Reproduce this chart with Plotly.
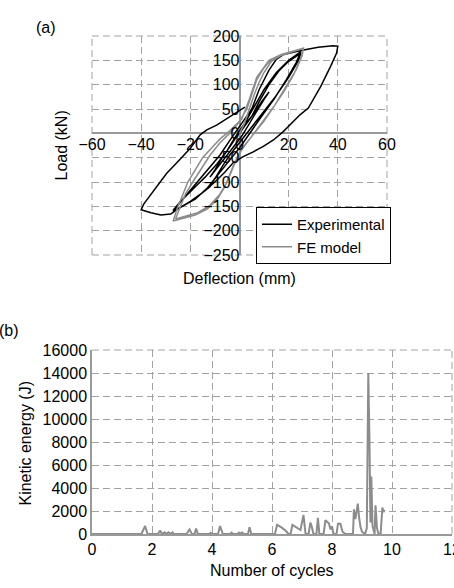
import plotly.graph_objects as go

# ---------------- data: panel (a) hysteresis ----------------
exp_x = [0, 3, 6, 9, 12, 10, 7, 4, 1, -2, -5, -8, -12, -10, -7, -4, -1, 2,
         5, 8, 12, 16, 20, 25, 24, 20, 15, 10, 5, 0, -4, -7, -12, -19, -25, -27,
         -24, -19, -14, -9, -5, -2, 2, 6, 10, 15, 20, 25,
         23, 19, 14, 9, 4, 0, -4, -8, -13, -18, -24, -27,
         -23, -18, -13, -8, -4, 0, 5,
         8, 12, 15, 18, 25, 32, 38, 40, 39.5, 37, 33, 30, 28, 24.6, 20.5, 17.8,
         13.8, 9.7, 5.6, 1.5, -2.5, -6, -10, -15, -20, -25, -28, -32, -36, -40,
         -38.9, -36.7, -33.7, -29.6, -25.6, -20.1, -16, -13.3, -9.3, -3.9, 2.2]
exp_y = [0, 20, 42, 65, 85, 70, 45, 20, -5, -25, -45, -65, -90, -75, -50, -28, -5, 18,
         35, 65, 100, 128, 148, 165, 150, 115, 78, 45, 12, -20, -45, -68, -110, -138, -155, -158,
         -140, -115, -90, -62, -35, -10, 20, 55, 90, 125, 150, 168,
         145, 110, 70, 35, 0, -30, -55, -80, -112, -135, -152, -160,
         -135, -105, -75, -45, -15, 15, 50,
         90, 130, 152, 162, 170, 177, 180, 179, 165, 137, 96, 69, 52, 38, 17, 3.5,
         -13.6, -27, -38, -48, -60, -80, -100, -122, -140, -155, -166, -168, -163, -157,
         -145, -130, -109, -82, -61, -31, -3, 7, 17, 34, 54]

fe_x = [0, 2, 4, 6, 8, 10, 13, 17, 22, 26, 25.5, 23, 20, 17, 14, 10, 6, 3, 0, -2, -4,
        -6, -9, -13, -18, -23, -27, -26, -25, -23, -21, -18, -15, -11, -8, -4, 0,
        3, 5, 7, 10, 13, 18, 23, 26, 25, 22, 18, 14, 10, 6, 2, -1, -3, -5, -8,
        -12, -17, -22, -26, -24, -22, -19, -15, -12, -8, -3, 1, 4, 7, 12, 17, 26]
fe_y = [0, 20, 50, 80, 105, 125, 148, 160, 168, 175, 160, 130, 105, 80, 55, 28, 0, -20, -40, -60, -85,
        -110, -135, -155, -168, -175, -180, -165, -150, -125, -100, -75, -50, -28, -12, 5, 25,
        50, 80, 110, 135, 152, 163, 170, 174, 155, 120, 85, 55, 25, 0, -25, -50, -75, -100, -125,
        -148, -163, -170, -176, -150, -125, -100, -70, -45, -20, 5, 30, 70, 115, 150, 162, 175]

# ---------------- data: panel (b) kinetic energy ----------------
ke_x = [0, 1.65, 1.77, 1.85, 2.2, 2.27, 2.33, 2.42, 2.47, 2.55, 2.62, 2.68, 2.74,
        3.15, 3.25, 3.33, 3.42, 3.47, 3.53, 3.9, 3.95, 4.0, 4.2, 4.27, 4.36,
        4.6, 4.65, 4.7, 4.85, 4.9, 4.95, 5.0, 5.05, 5.2, 5.25, 5.31,
        6.1, 6.17, 6.3, 6.45, 6.55, 6.62, 6.68, 6.8, 6.95, 7.05, 7.12,
        7.22, 7.28, 7.33, 7.38, 7.48, 7.53, 7.58, 7.72, 7.78, 7.9, 7.95, 8.0, 8.05,
        8.15, 8.2, 8.28, 8.35, 8.45, 8.7, 8.73, 8.78, 8.83, 8.86, 8.9, 8.95, 9.0, 9.1, 9.16,
        9.21, 9.25, 9.28, 9.31, 9.35, 9.42, 9.45, 9.5, 9.55, 9.62, 9.68, 9.72, 9.75]
ke_y = [0, 0, 700, 0, 0, 300, 0, 150, 0, 150, 0, 150, 0,
        0, 400, 0, 0, 480, 0, 0, 100, 0, 0, 700, 0,
        0, 120, 0, 0, 120, 0, 130, 0, 0, 580, 0,
        0, 800, 600, 300, 0, 0, 800, 600, 350, 1650, 0,
        0, 1000, 600, 0, 0, 1400, 0, 0, 1200, 900, 400, 650, 0,
        0, 900, 900, 200, 0, 0, 2150, 1300, 2000, 2650, 1500, 600, 200, 0, 500,
        14000, 8000, 1000, 5000, 700, 0, 2500, 500, 0, 0, 2300, 1900, 2100]

# tick values
a_xticks = [-60, -40, -20, 0, 20, 40, 60]
a_yticks = [200, 150, 100, 50, 0, -50, -100, -150, -200, -250]
b_xticks = [0, 2, 4, 6, 8, 10, 12]
b_yticks = [0, 2000, 4000, 6000, 8000, 10000, 12000, 14000, 16000]

W, H = 454, 588
FONT = "Arial, Liberation Sans, sans-serif"
GRID = "#a3a3a3"
AXC = "#999999"
DASH = "7px,4px"

fig = go.Figure()
fig.add_trace(go.Scatter(x=exp_x, y=exp_y, mode="lines", name="Experimental",
                         line=dict(color="black", width=1.5), xaxis="x", yaxis="y"))
fig.add_trace(go.Scatter(x=fe_x, y=fe_y, mode="lines", name="FE model",
                         line=dict(color="#8c8c8c", width=1.5), xaxis="x", yaxis="y"))
fig.add_trace(go.Scatter(x=ke_x, y=ke_y, mode="lines", showlegend=False,
                         line=dict(color="#8c8c8c", width=2), xaxis="x2", yaxis="y2"))

ax_dom_a = [92 / W, 387 / W]
ay_dom_a = [1 - 255 / H, 1 - 36 / H]
ax_dom_b = [92 / W, 452 / W]
ay_dom_b = [1 - 534 / H, 1 - 350 / H]

common = dict(showgrid=True, gridcolor=GRID, griddash=DASH, gridwidth=1,
              ticks="", automargin=False,
              tickfont=dict(family=FONT, size=16, color="black"))

fig.update_layout(
    template="none",
    width=W, height=H, margin=dict(l=0, r=0, t=0, b=0, pad=0),
    paper_bgcolor="white", plot_bgcolor="white",
    font=dict(family=FONT, color="black"),
    xaxis=dict(domain=ax_dom_a, range=[-60, 60], tickvals=a_xticks, anchor="free",
               position=1 - 133.4 / H, zeroline=True, zerolinecolor=AXC, zerolinewidth=1.5,
               showline=False, **common),
    yaxis=dict(domain=ay_dom_a, range=[-250, 200], tickvals=a_yticks, anchor="free",
               position=239.5 / W, zeroline=True, zerolinecolor=AXC, zerolinewidth=1.5,
               showline=False, **common),
    xaxis2=dict(domain=ax_dom_b, range=[0, 12], tickvals=b_xticks, anchor="y2",
                ticklabeloverflow="allow",
                zeroline=False, showline=True, linecolor=AXC, linewidth=1.5, **common),
    yaxis2=dict(domain=ay_dom_b, range=[0, 16000], tickvals=b_yticks, anchor="x2",
                tickformat="d",
                zeroline=False, showline=True, linecolor=AXC, linewidth=1.5, **common),
    legend=dict(x=256 / W, y=1 - 207 / H, xanchor="left", yanchor="top",
                bgcolor="white", bordercolor="black", borderwidth=1,
                font=dict(family=FONT, size=15, color="black"),
                tracegroupgap=0, itemwidth=30),
    showlegend=True,
)

# dashed frame edges (grid lines at the range ends)
edge = dict(type="line", line=dict(color=GRID, width=1, dash=DASH), layer="below")
shapes = [
    dict(xref="x domain", yref="y domain", x0=0, x1=1, y0=1, y1=1, **edge),
    dict(xref="x domain", yref="y domain", x0=0, x1=1, y0=0, y1=0, **edge),
    dict(xref="x domain", yref="y domain", x0=0, x1=0, y0=0, y1=1, **edge),
    dict(xref="x domain", yref="y domain", x0=1, x1=1, y0=0, y1=1, **edge),
    dict(xref="x2 domain", yref="y2 domain", x0=0, x1=1, y0=1, y1=1, **edge),
    dict(xref="x2 domain", yref="y2 domain", x0=1, x1=1, y0=0, y1=1, **edge),
]
fig.update_layout(shapes=shapes)

ann = [
    dict(text="(a)", x=34 / W, y=1 - 27.5 / H, xanchor="left", yanchor="middle", font_size=16),
    dict(text="(b)", x=-3 / W, y=1 - 330.5 / H, xanchor="left", yanchor="middle", font_size=16),
    dict(text="Load (kN)", x=61.5 / W, y=1 - 146 / H, textangle=-90, xanchor="center",
         yanchor="middle", font_size=16),
    dict(text="Deflection (mm)", x=239 / W, y=1 - 278.5 / H, xanchor="center",
         yanchor="middle", font_size=16),
    dict(text="Kinetic energy (J)", x=24.5 / W, y=1 - 443 / H, textangle=-90,
         xanchor="center", yanchor="middle", font_size=16),
    dict(text="Number of cycles", x=272 / W, y=1 - 570 / H, xanchor="center",
         yanchor="middle", font_size=16),
]
for a in ann:
    a.update(xref="paper", yref="paper", showarrow=False)
    a["font"] = dict(family=FONT, size=a.pop("font_size"), color="black")
fig.update_layout(annotations=ann)

fig.write_html("out.html")
